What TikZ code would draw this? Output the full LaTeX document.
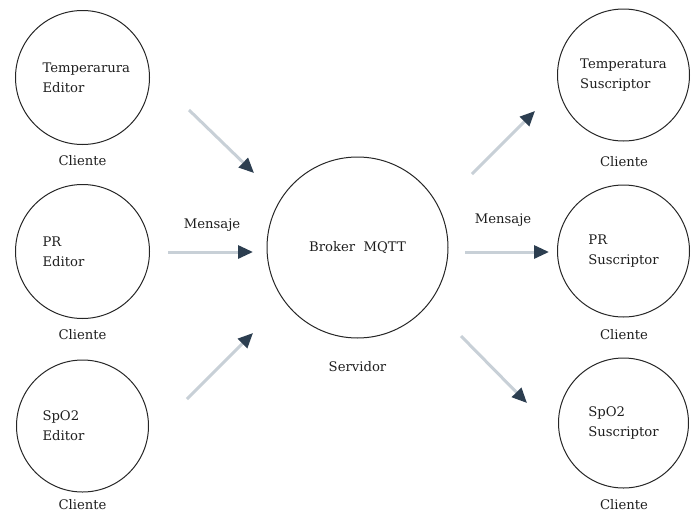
\documentclass[tikz,border=0pt]{standalone}
\usepackage{fontspec}
\setmainfont{DejaVu Serif}
\usetikzlibrary{arrows.meta}
\definecolor{txt}{RGB}{30,30,30}
\definecolor{arrline}{RGB}{200,208,215}
\definecolor{arrhead}{RGB}{44,62,80}
\tikzset{
  every node/.style={font=\fontsize{13.2}{20}\selectfont, text=txt},
  client/.style={circle, draw=black!85, line width=1pt, inner sep=0pt, minimum size=#1, align=left},
  lab/.style={inner sep=0pt},
  msg/.style={line width=3pt, draw=arrline, -{Triangle[length=15pt,width=13pt,color=arrhead]}}
}
\begin{document}
\begin{tikzpicture}[x=1pt,y=-1pt]
\useasboundingbox (0,0) rectangle (697,512);
% left clients
\node[client=134pt, text width=80pt] (e1) at (82.5,77.5) {Temperarura\\Editor};
\node[client=134pt, text width=80pt] (e2) at (82.5,251.5) {PR\\Editor};
\node[client=132pt, text width=80pt] (e3) at (82.5,426) {SpO2\\Editor};
\node[lab] (ce1) at (82.5,161) {Cliente};
\node[lab] (ce2) at (82.5,335) {Cliente};
\node[lab] (ce3) at (82.5,505) {Cliente};
% broker
\node[client=181pt, align=center] (b) at (357.5,247.5) {Broker~~MQTT};
\node[lab] (srv) at (357.5,367) {Servidor};
% right clients
\node[client=132pt] (s1) at (623.5,75) {Temperatura\\Suscriptor};
\node[client=132pt] (s2) at (623.5,251) {PR\\Suscriptor};
\node[client=130pt] (s3) at (623.5,423) {SpO2\\Suscriptor};
\node[lab] (cs1) at (624,162) {Cliente};
\node[lab] (cs2) at (624,335) {Cliente};
\node[lab] (cs3) at (624,505) {Cliente};
% message labels
\node[lab] (m1) at (212,225) {Mensaje};
\node[lab] (m2) at (503,220) {Mensaje};
% arrow ends
\coordinate (a1s) at (189,110);
\coordinate (a1e) at (254,173);
\coordinate (a2s) at (168,252);
\coordinate (a2e) at (253,252);
\coordinate (a3s) at (187,399);
\coordinate (a3e) at (253,333);
\coordinate (b1s) at (472,174);
\coordinate (b1e) at (535,111);
\coordinate (b2s) at (465,252);
\coordinate (b2e) at (549,252);
\coordinate (b3s) at (461,336);
\coordinate (b3e) at (527,403);
\draw[msg] (a1s) -- (a1e);
\draw[msg] (a2s) -- (a2e);
\draw[msg] (a3s) -- (a3e);
\draw[msg] (b1s) -- (b1e);
\draw[msg] (b2s) -- (b2e);
\draw[msg] (b3s) -- (b3e);
\end{tikzpicture}
\end{document}
